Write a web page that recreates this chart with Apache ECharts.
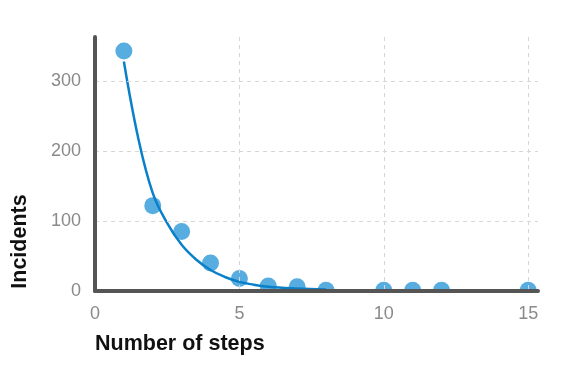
<!DOCTYPE html>
<html>
<head>
<meta charset="utf-8">
<script src="https://cdn.jsdelivr.net/npm/echarts@6/dist/echarts.min.js"></script>
<style>html,body{margin:0;padding:0;background:#fff}#c{width:580px;height:370px}</style>
</head>
<body>
<div id="c"></div>
<script>
// Observed incidents by number of steps
var steps = [1, 2, 3, 4, 5, 6, 7, 8, 10, 11, 12, 15];
var incidents = [343, 122, 85, 40, 18, 7, 6, 1, 1, 1, 1, 1];
// Fitted curve, points
var fitX = [1, 1.5, 2, 2.5, 3, 3.5, 4, 4.5, 5, 5.5, 6, 7, 8];
var fitY = [328, 218, 140, 97, 66, 45, 30, 20, 13, 9, 6, 3.5, 2];
var xTicks = [0, 5, 10, 15];
var yTicks = [0, 100, 200, 300];
var xTitle = 'Number of steps';
var yTitle = 'Incidents';

var FONT = '"Liberation Sans", Arial, Helvetica, sans-serif';
var chart = echarts.init(document.getElementById('c'), null, {renderer: 'canvas'});

var pts = steps.map(function (s, i) { return [s, incidents[i]]; });
var fit = fitX.map(function (s, i) { return [s, fitY[i]]; });

chart.setOption({
  animation: false,
  backgroundColor: '#fff',
  grid: {left: 95, right: 42, top: 37, bottom: 79, containLabel: false, outerBoundsMode: 'none'},
  xAxis: {
    type: 'value', min: 0, max: 15.34, interval: 5, z: 10,
    axisLine: {show: true, lineStyle: {color: '#555', width: 4}},
    axisTick: {show: false},
    axisLabel: {
      showMaxLabel: false, margin: 14, color: '#8a8a8a', fontSize: 18, fontFamily: FONT,
      formatter: function (v) { return xTicks.indexOf(v) >= 0 ? String(v) : ''; }
    },
    splitLine: {show: true, showMinLine: false, showMaxLine: false, lineStyle: {color: '#d6d6d6', type: [4, 4], width: 1}}
  },
  yAxis: {
    type: 'value', min: 0, max: 363, interval: 100, z: 10,
    axisLine: {show: true, lineStyle: {color: '#555', width: 4}},
    axisTick: {show: false},
    axisLabel: {
      showMaxLabel: false, margin: 14, color: '#8a8a8a', fontSize: 18, fontFamily: FONT,
      formatter: function (v) { return yTicks.indexOf(v) >= 0 ? String(v) : ''; }
    },
    splitLine: {show: true, showMinLine: false, showMaxLine: false, lineStyle: {color: '#d6d6d6', type: [4, 4], width: 1}}
  },
  graphic: [
    {type: 'text', left: 95, top: 333, z: 20,
     style: {text: xTitle, fill: '#111', font: 'bold 21.5px ' + FONT}},
    {type: 'text', x: 20, y: 241.5, rotation: Math.PI / 2, z: 20,
     style: {text: yTitle, fill: '#111', font: 'bold 21.5px ' + FONT, align: 'center', verticalAlign: 'middle'}}
  ],
  series: [
    {
      type: 'custom', z: 2, clip: true, data: pts,
      renderItem: function (params, api) {
        var p = api.coord([api.value(0), api.value(1)]);
        return {type: 'circle', shape: {cx: p[0], cy: p[1], r: 8.5}, style: {fill: '#58ade0'}};
      }
    },
    {
      type: 'line', z: 3, data: fit, showSymbol: false, smooth: 0.4,
      lineStyle: {color: '#0a80c9', width: 2.5}, clip: true
    }
  ]
});
</script>
</body>
</html>
